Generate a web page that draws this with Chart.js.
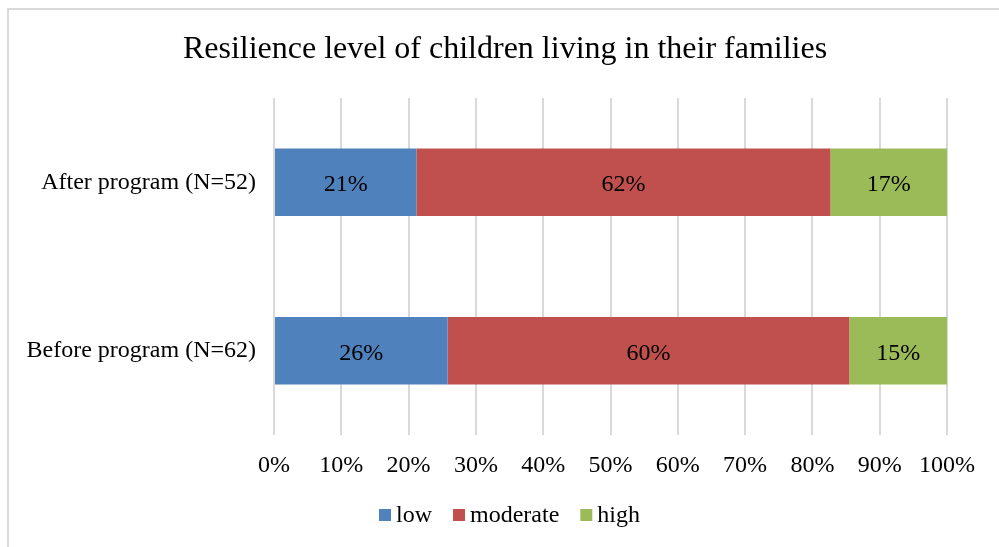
<!DOCTYPE html>
<html>
<head>
<meta charset="utf-8">
<script src="https://cdn.jsdelivr.net/npm/chart.js@4.4.1/dist/chart.umd.min.js"></script>
<style>
  html, body { margin: 0; padding: 0; background: #fff; }
  #wrap { width: 999px; height: 547px; }
</style>
</head>
<body>
<div id="wrap"><canvas id="resilience" width="999" height="547"></canvas></div>
<script>
// respondent counts per resilience level, top row first
const groups = ['After program (N=52)', 'Before program (N=62)'];
const groupN = [52, 62];
const lowCounts = [11, 16];
const moderateCounts = [32, 37];
const highCounts = [9, 9];
const xTicks = [0, 10, 20, 30, 40, 50, 60, 70, 80, 90, 100];
const chartTitle = 'Resilience level of children living in their families';

const SERIF = '"Liberation Serif", "Times New Roman", serif';

function toPct(counts) {
  return counts.map((c, i) => (c / groupN[i]) * 100);
}

// frame around the whole figure + title, centred on the figure rather than the plot
const framePlugin = {
  id: 'frame',
  beforeDraw(chart) {
    const ctx = chart.ctx;
    ctx.save();
    ctx.strokeStyle = '#d9d9d9';
    ctx.lineWidth = 2;
    ctx.strokeRect(8, 9, 1200, 800);
    ctx.font = '32px ' + SERIF;
    ctx.fillStyle = '#000';
    ctx.textAlign = 'center';
    ctx.textBaseline = 'alphabetic';
    ctx.fillText(chartTitle, 505, 58);
    ctx.restore();
  },
};

// percentage written in the middle of each segment
const segmentLabels = {
  id: 'segmentLabels',
  afterDatasetsDraw(chart) {
    const ctx = chart.ctx;
    ctx.save();
    ctx.font = '24px ' + SERIF;
    ctx.fillStyle = '#000';
    ctx.textAlign = 'center';
    ctx.textBaseline = 'alphabetic';
    chart.data.datasets.forEach((ds, di) => {
      chart.getDatasetMeta(di).data.forEach((bar, i) => {
        const { x, base, y } = bar.getProps(['x', 'base', 'y'], true);
        ctx.fillText(Math.round(ds.data[i]) + '%', (x + base) / 2, y + 9);
      });
    });
    ctx.restore();
  },
};

// legend row under the axis: square swatch + series name
const legendRow = {
  id: 'legendRow',
  afterDraw(chart) {
    const ctx = chart.ctx;
    const box = 12, gap = 5, spacing = 21, cy = 515;
    ctx.save();
    ctx.font = '24px ' + SERIF;
    ctx.textBaseline = 'middle';
    ctx.textAlign = 'left';
    const items = chart.data.datasets.map((ds) => ({
      text: ds.label, color: ds.backgroundColor, w: ctx.measureText(ds.label).width,
    }));
    const total = items.reduce((s, it) => s + box + gap + it.w, 0) + spacing * (items.length - 1);
    let x = 509.5 - total / 2;
    items.forEach((it) => {
      ctx.fillStyle = it.color;
      ctx.fillRect(x, cy - box / 2, box, box);
      x += box + gap;
      ctx.fillStyle = '#000';
      ctx.fillText(it.text, x, cy + 1);
      x += it.w + spacing;
    });
    ctx.restore();
  },
};

new Chart(document.getElementById('resilience'), {
  type: 'bar',
  data: {
    labels: groups,
    datasets: [
      { label: 'low', data: toPct(lowCounts), backgroundColor: '#4F81BD' },
      { label: 'moderate', data: toPct(moderateCounts), backgroundColor: '#C0504D' },
      { label: 'high', data: toPct(highCounts), backgroundColor: '#9BBB59' },
    ],
  },
  options: {
    indexAxis: 'y',
    responsive: false,
    animation: false,
    datasets: { bar: { barPercentage: 1, categoryPercentage: 0.4, borderWidth: 0 } },
    layout: { padding: { left: 0, right: 52, top: 98, bottom: 60 } },
    plugins: {
      title: { display: false },
      legend: { display: false },
      tooltip: { enabled: false },
    },
    scales: {
      x: {
        stacked: true,
        min: 0,
        max: 100,
        afterBuildTicks(scale) {
          scale.ticks = xTicks.map((v) => ({ value: v }));
        },
        afterFit(scale) { scale.height = 52; },
        ticks: {
          color: '#000',
          font: { family: SERIF, size: 24 },
          padding: 16,
          autoSkip: false,
          maxRotation: 0,
          callback: (v) => v + '%',
        },
        grid: { color: '#d9d9d9', lineWidth: 2, drawTicks: false },
        border: { display: false },
      },
      y: {
        stacked: true,
        afterFit(scale) { scale.width = 274; },
        ticks: {
          color: '#000',
          font: { family: SERIF, size: 24 },
          padding: 18,
        },
        grid: { display: false, drawTicks: false },
        border: { display: false },
      },
    },
  },
  plugins: [framePlugin, segmentLabels, legendRow],
});
</script>
</body>
</html>
